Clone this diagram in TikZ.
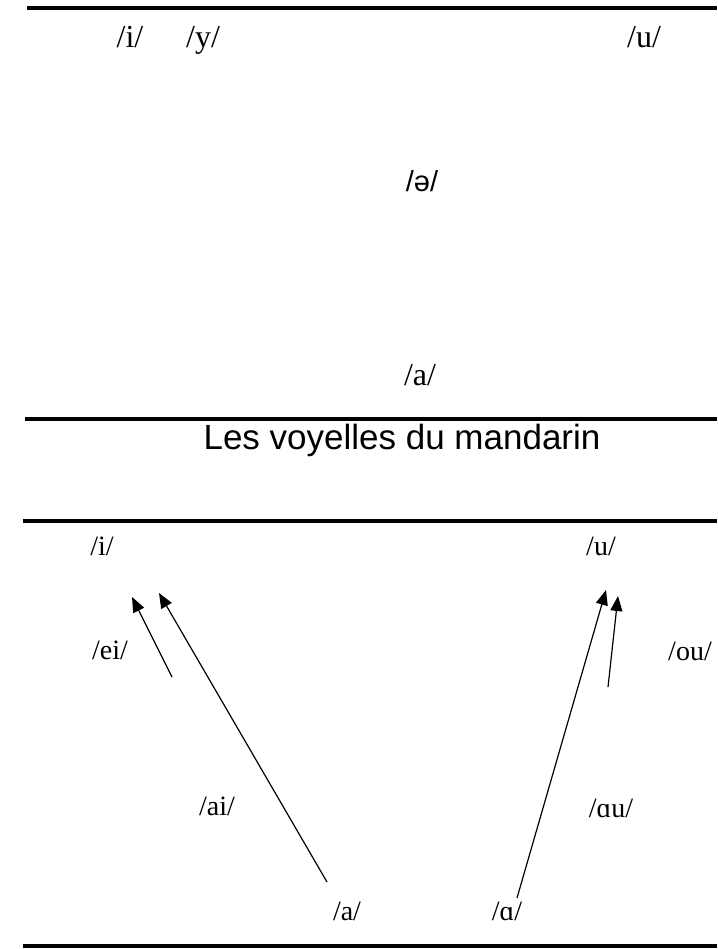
\documentclass[tikz,border=0pt]{standalone}
\usepackage{fontspec}
\setmainfont{Liberation Serif}
\setsansfont{Liberation Sans}
\usetikzlibrary{arrows.meta}

\begin{document}
\begin{tikzpicture}[x=1pt,y=-1pt,
        rule/.style={line width=4pt},
        big/.style={font=\fontsize{32}{32}\selectfont,text height=0.69em,text depth=0.02em},
        small/.style={font=\fontsize{28}{28}\selectfont,text height=0.69em,text depth=0.02em},
        glide/.style={-{Triangle[length=15pt,width=12pt]},line width=1.2pt}]
            \useasboundingbox (0,0) rectangle (717,949);
            % rules
            \coordinate (R1) at (27,8);
            \coordinate (S1) at (717,8);
            \coordinate (R2) at (25,419);
            \coordinate (S2) at (717,419);
            \coordinate (R3) at (23,521);
            \coordinate (S3) at (717,521);
            \coordinate (R4) at (23,946);
            \coordinate (S4) at (717,946);
            \draw[rule] (R1) -- (S1);
            \draw[rule] (R2) -- (S2);
            \draw[rule] (R3) -- (S3);
            \draw[rule] (R4) -- (S4);
            % top chart
            \node[big] (ti) at (130,44) {/i/};
            \node[big] (ty) at (203,44) {/y/};
            \node[big] (tu) at (644,44) {/u/};
            \node[font=\sffamily\fontsize{29}{29}\selectfont] (tschwa) at (422,181) {/ə/};
            \node[big] (ta) at (420,382) {/a/};
            \node[font=\sffamily\fontsize{35}{35}\selectfont] (title) at (402,440) {Les voyelles du mandarin};
            % bottom chart
            \node[small] (bi) at (102,552) {/i/};
            \node[small] (bu) at (601,552) {/u/};
            \node[small] (ei) at (110,656) {/ei/};
            \node[small] (ou) at (690,657) {/ou/};
            \node[small] (ai) at (217,812) {/ai/};
            \node[small] (au) at (611,814) {/ɑu/};
            \node[small] (ba) at (347,917) {/a/};
            \node[small] (bo) at (507,917) {/ɑ/};
            \coordinate (EiS) at (172,677);
            \coordinate (EiE) at (132,597);
            \coordinate (AiS) at (327,882);
            \coordinate (AiE) at (159,593);
            \coordinate (AuS) at (517,898);
            \coordinate (AuE) at (606,590);
            \coordinate (OuS) at (608,687);
            \coordinate (OuE) at (618,596);
            \draw[glide] (EiS) -- (EiE);
            \draw[glide] (AiS) -- (AiE);
            \draw[glide] (AuS) -- (AuE);
            \draw[glide] (OuS) -- (OuE);
        \end{tikzpicture}
\end{document}
